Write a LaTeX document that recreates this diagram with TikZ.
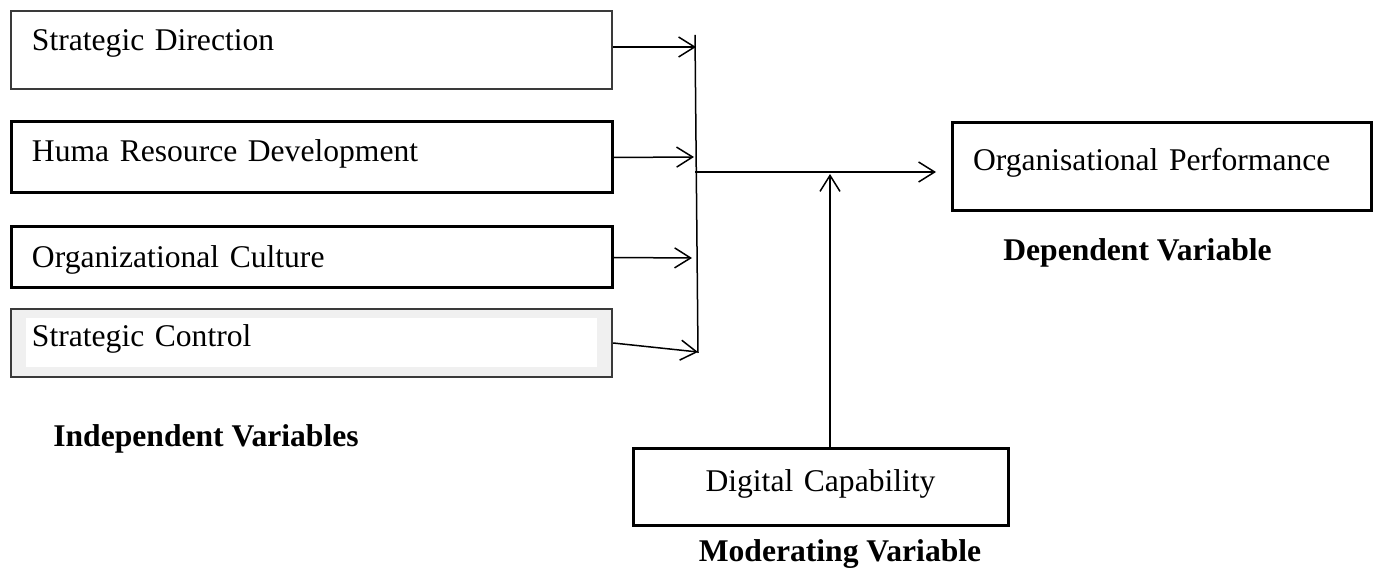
\documentclass[tikz,border=0pt]{standalone}
\usepackage{fontspec}
\setmainfont{Liberation Serif}
\usetikzlibrary{arrows.meta}

\definecolor{bandgrey}{HTML}{F0F0F0}
\definecolor{framegrey}{HTML}{3A3A3A}

\tikzset{
  varbox/.style={draw, line width=1.5pt, inner xsep=10.5pt, inner ysep=0pt,
    minimum width=300.5pt, text width=279.5pt, align=left,
    text height=11pt, text depth=7pt,
    font=\fontsize{15.8pt}{19pt}\selectfont},
  thinbox/.style={line width=0.8pt, draw=framegrey},
  greybox/.style={line width=1.1pt, draw=framegrey, fill=bandgrey,
    path picture={\fill[white]
      ([xshift=7.5pt,yshift=-4.5pt]path picture bounding box.north west) rectangle
      ([xshift=-7.5pt,yshift=5pt]path picture bounding box.south east);}},
  heading/.style={anchor=base, inner sep=0pt,
    font=\fontsize{15.8pt}{19pt}\selectfont\bfseries},
  conn/.style={line width=0.75pt}
}

\begin{document}
\begin{tikzpicture}[x=0.5pt, y=-0.5pt, >={Straight Barb[length=8pt,width=10pt]}]
  % Rand festlegen
  \useasboundingbox (0,0) rectangle (1377,571);

  % unabhaengige Variablen
  \node[varbox, thinbox, minimum height=39pt, text height=9pt, text depth=8pt] (sd) at (311.5,50) {Strategic Direction};
  \node[varbox, minimum height=35.5pt] (hrd) at (311.5,157.5) {Huma Resource Development};
  \node[varbox, minimum height=30.5pt, text height=14pt, text depth=3.6pt] (oc) at (311.5,257.5) {Organizational Culture};
  \node[varbox, greybox, minimum height=34pt] (sc) at (311.5,343) {Strategic Control};

  % abhaengige und moderierende Variable
  \node[varbox, minimum width=209.5pt, text width=188.5pt, minimum height=44pt] (op) at (1161.5,167) {Organisational Performance};
  \node[varbox, minimum width=187.5pt, text width=166.5pt, align=center, minimum height=38.5pt] (dc) at (820.5,487.5) {Digital Capability};

  % Ueberschriften
  \node[heading] (indep) at (206,447) {Independent Variables};
  \node[heading] (dep) at (1137.5,261) {Dependent Variable};
  \node[heading] (mod) at (840,562) {Moderating Variable};

  % Sammelschiene
  \coordinate (busTop) at (695,35);
  \coordinate (busBot) at (698,353);
  \coordinate (inSD) at (696,47);
  \coordinate (inHRD) at (694,157);
  \coordinate (inOC) at (692,258);
  \coordinate (inSC) at (698,352);
  \coordinate (busOut) at (695,172);
  \coordinate (opIn) at (936,172);
  \coordinate (modTip) at (830,174);

  % Pfeile zeichnen
  \draw[conn] (busTop) -- (busBot);
  \draw[conn,->] ([yshift=1.5pt]sd.east) -- (inSD);
  \draw[conn,->] (hrd.east) -- (inHRD);
  \draw[conn,->] (oc.east) -- (inOC);
  \draw[conn,->] (sc.east) -- (inSC);
  \draw[conn,->] (busOut) -- (opIn);
  \draw[conn,->] (modTip |- dc.north) -- (modTip);
\end{tikzpicture}
\end{document}
